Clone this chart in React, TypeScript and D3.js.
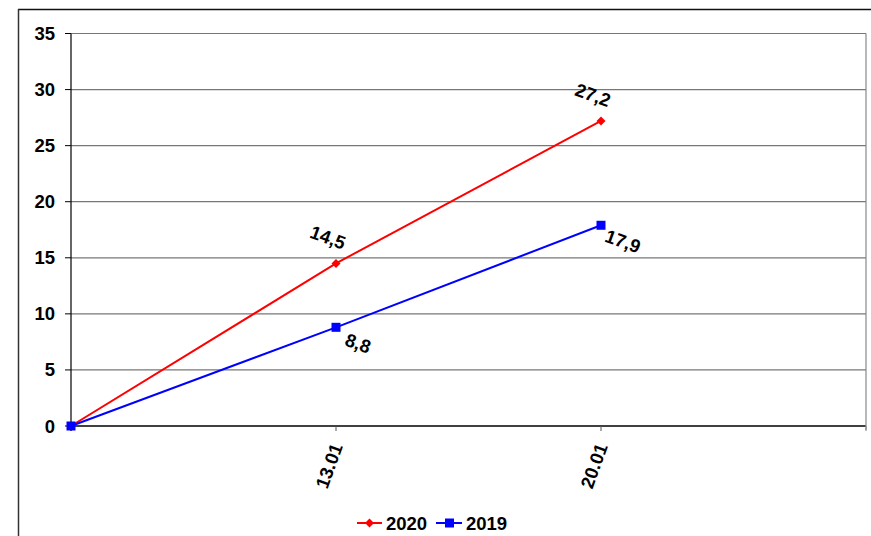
import React from "react";
import * as d3 from "d3";

const categories = ["", "13.01", "20.01", " "];
const series2020 = [0, 14.5, 27.2];
const series2019 = [0, 8.8, 17.9];
const yTicks = [0, 5, 10, 15, 20, 25, 30, 35];
const seriesNames = ["2020", "2019"];

const W = 871;
const H = 536;
const plot = { left: 71, top: 33.5, right: 866, bottom: 426 };
const FONT = "'Liberation Sans', Arial, sans-serif";
const FS = 18.5;

export default function App() {
  const x = d3.scalePoint<string>().domain(categories).range([plot.left, plot.right]);
  const y = d3.scaleLinear().domain([0, 35]).range([plot.bottom, plot.top]);
  const line = d3
    .line<number>()
    .x((_, i) => x(categories[i]) as number)
    .y((d) => y(d));

  const diamond = (cx: number, cy: number, r: number) =>
    `M${cx},${cy - r}L${cx + r},${cy}L${cx},${cy + r}L${cx - r},${cy}Z`;

  const label2020Offset = [-8, -26];
  const label2019Offset = [22, 16];
  const fmt = (v: number) => String(v).replace(".", ",");

  return (
    <svg
      width={W}
      height={H}
      style={{ position: "absolute", left: 0, top: 0, background: "#fff" }}
      fontFamily={FONT}
    >
      {/* outer chart border */}
      <line x1={18} y1={9.5} x2={W} y2={9.5} stroke="#111" strokeWidth={1.5} />
      <line x1={18.5} y1={9} x2={18.5} y2={H} stroke="#333" strokeWidth={1.5} />

      {/* gridlines */}
      {yTicks.map((t) => (
        <line
          key={"g" + t}
          x1={plot.left}
          x2={plot.right}
          y1={y(t)}
          y2={y(t)}
          stroke={t === 0 ? "#000" : "#777"}
          strokeWidth={t === 0 ? 1.3 : 1.2}
        />
      ))}
      {/* right border of plot */}
      <line x1={plot.right} x2={plot.right} y1={plot.top} y2={plot.bottom + 4} stroke="#888" strokeWidth={1.2} />

      {/* y axis */}
      <line x1={plot.left} x2={plot.left} y1={plot.top} y2={plot.bottom + 5} stroke="#000" strokeWidth={1.2} />
      {yTicks.map((t) => (
        <g key={"yt" + t}>
          <line x1={plot.left - 6} x2={plot.left} y1={y(t)} y2={y(t)} stroke="#000" strokeWidth={1} />
          <text
            x={55}
            y={y(t)}
            textAnchor="end"
            dominantBaseline="central"
            fontSize={FS}
            fontWeight="bold"
          >
            {t}
          </text>
        </g>
      ))}

      {/* x ticks and labels */}
      {categories.map((c, i) => {
        const cx = x(c) as number;
        return (
          <g key={"xt" + i}>
            <line x1={cx} x2={cx} y1={plot.bottom} y2={plot.bottom + 5} stroke={i === 3 ? "#888" : "#555"} strokeWidth={1} />
            {c.trim() && (
              <text
                transform={`translate(${cx + 1},${plot.bottom + 18}) rotate(-70)`}
                textAnchor="end"
                dominantBaseline="central"
                fontSize={FS}
                fontWeight="bold"
              >
                {c}
              </text>
            )}
          </g>
        );
      })}

      {/* 2020 series */}
      <path d={line(series2020) || ""} fill="none" stroke="#ff0000" strokeWidth={2} />
      {series2020.map((v, i) => (
        <path key={"m20" + i} d={diamond(x(categories[i]) as number, y(v), 4.5)} fill="#ff0000" />
      ))}

      {/* 2019 series */}
      <path d={line(series2019) || ""} fill="none" stroke="#0000ff" strokeWidth={2} />
      {series2019.map((v, i) => (
        <rect
          key={"m19" + i}
          x={(x(categories[i]) as number) - 4.5}
          y={y(v) - 4.5}
          width={9}
          height={9}
          fill="#0000ff"
        />
      ))}

      {/* data labels */}
      {series2020.map((v, i) =>
        i === 0 ? null : (
          <text
            key={"l20" + i}
            transform={`translate(${(x(categories[i]) as number) + label2020Offset[0]},${y(v) + label2020Offset[1]}) rotate(20)`}
            textAnchor="middle"
            dominantBaseline="central"
            fontSize={FS}
            fontWeight="bold"
          >
            {fmt(v)}
          </text>
        )
      )}
      {series2019.map((v, i) =>
        i === 0 ? null : (
          <text
            key={"l19" + i}
            transform={`translate(${(x(categories[i]) as number) + label2019Offset[0]},${y(v) + label2019Offset[1]}) rotate(20)`}
            textAnchor="middle"
            dominantBaseline="central"
            fontSize={FS}
            fontWeight="bold"
          >
            {fmt(v)}
          </text>
        )
      )}

      {/* legend */}
      <g>
        <line x1={357} x2={382} y1={523} y2={523} stroke="#ff0000" strokeWidth={2} />
        <path d={diamond(369.5, 523, 4.5)} fill="#ff0000" />
        <text x={386} y={523} dominantBaseline="central" fontSize={FS} fontWeight="bold">
          {seriesNames[0]}
        </text>
        <line x1={436} x2={462} y1={523} y2={523} stroke="#0000ff" strokeWidth={2} />
        <rect x={445} y={518.5} width={9} height={9} fill="#0000ff" />
        <text x={466} y={523} dominantBaseline="central" fontSize={FS} fontWeight="bold">
          {seriesNames[1]}
        </text>
      </g>
    </svg>
  );
}
